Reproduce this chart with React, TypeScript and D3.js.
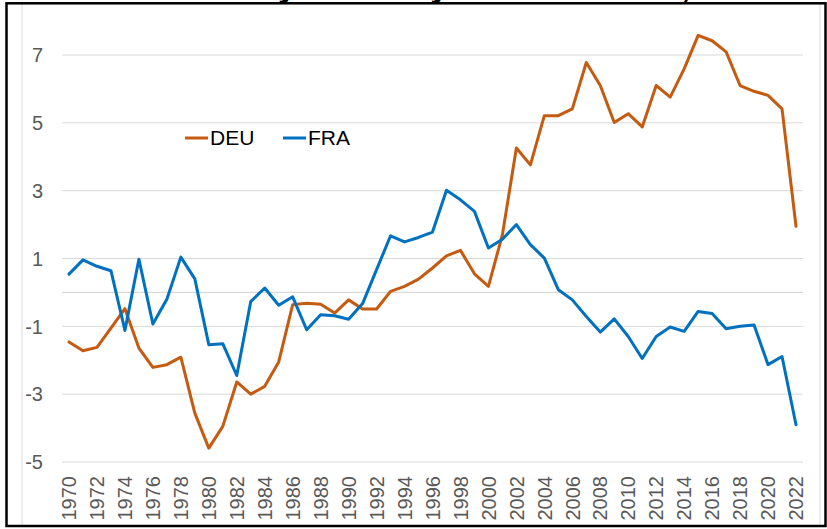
import React from "react";
import * as d3 from "d3";

const years: number[] = d3.range(1970, 2023);
const tickYears: number[] = years.filter((y) => (y - 1970) % 2 === 0);
const yTicks: number[] = [-5, -3, -1, 1, 3, 5, 7];

const deu: number[] = [
  -1.46, -1.72, -1.62, -1.05, -0.48, -1.64, -2.21, -2.13, -1.91, -3.56,
  -4.59, -3.95, -2.64, -3.0, -2.77, -2.05, -0.36, -0.32, -0.35, -0.61,
  -0.22, -0.49, -0.49, 0.03, 0.18, 0.39, 0.72, 1.08, 1.24, 0.55,
  0.18, 1.7, 4.26, 3.76, 5.21, 5.21, 5.41, 6.78, 6.1, 5.01,
  5.27, 4.88, 6.1, 5.76, 6.59, 7.58, 7.42, 7.09, 6.1, 5.93,
  5.81, 5.41, 1.95,
];
const fra: number[] = [
  0.54, 0.96, 0.77, 0.64, -1.12, 0.98, -0.93, -0.2, 1.04, 0.4,
  -1.54, -1.51, -2.45, -0.27, 0.13, -0.38, -0.13, -1.1, -0.66, -0.69,
  -0.79, -0.33, 0.67, 1.67, 1.49, 1.62, 1.78, 3.01, 2.73, 2.39,
  1.31, 1.57, 2.0, 1.41, 1.01, 0.08, -0.22, -0.71, -1.17, -0.78,
  -1.3, -1.95, -1.3, -1.02, -1.15, -0.56, -0.62, -1.07, -1.0, -0.96,
  -2.13, -1.89, -3.9,
];
const seriesNames = ["DEU", "FRA"];
const seriesColors = ["#C55A11", "#0070C0"];
const title = "Current account balance by Germany versus France, % of GDP";

const W = 827;
const H = 529;
const FONT = "Arial, 'Liberation Sans', sans-serif";

export default function App() {
  const x = d3.scaleBand<number>().domain(years).range([62, 803]);
  const y = d3.scaleLinear().domain([-5, 7]).range([462, 55]);
  const cx = (yr: number) => (x(yr) as number) + x.bandwidth() / 2;
  const line = d3
    .line<number>()
    .x((_, i) => cx(years[i]))
    .y((v) => y(v));
  const data = [deu, fra];

  return (
    <svg
      width={W}
      height={H}
      style={{ position: "absolute", left: 0, top: 0, background: "#fff" }}
      fontFamily={FONT}
    >
      <rect x={0} y={0} width={W} height={H} fill="#fff" />
      {/* title (cut off above the frame, only descenders visible) */}
      <text x={356} y={-3} textAnchor="middle" fontSize={33} fontWeight="bold" fill="#000">
        {title}
      </text>
      {/* inner chart-area borders */}
      <line x1={22} x2={22} y1={4} y2={526} stroke="#d9d9d9" strokeWidth={1} />
      <line x1={820} x2={820} y1={4} y2={526} stroke="#d9d9d9" strokeWidth={1} />
      {/* gridlines */}
      {yTicks.map((t) => (
        <line key={t} x1={62} x2={803} y1={y(t)} y2={y(t)} stroke="#d9d9d9" strokeWidth={1} />
      ))}
      <line x1={62} x2={803} y1={y(0)} y2={y(0)} stroke="#d9d9d9" strokeWidth={1.3} />
      {/* y labels */}
      {yTicks.map((t) => (
        <text
          key={t}
          x={43}
          y={y(t)}
          dy="0.36em"
          textAnchor="end"
          fontSize={20}
          fill="#595959"
        >
          {t}
        </text>
      ))}
      {/* x labels */}
      {tickYears.map((yr) => (
        <text
          key={yr}
          transform={`translate(${cx(yr)},476) rotate(-90)`}
          textAnchor="end"
          dy="0.36em"
          fontSize={20}
          fill="#595959"
        >
          {yr}
        </text>
      ))}
      {/* series */}
      {data.map((d, i) => (
        <path
          key={seriesNames[i]}
          d={line(d) as string}
          fill="none"
          stroke={seriesColors[i]}
          strokeWidth={3}
          strokeLinejoin="round"
          strokeLinecap="round"
        />
      ))}
      {/* legend */}
      {seriesNames.map((n, i) => (
        <g key={n} transform={`translate(${185 + i * 98},0)`}>
          <line x1={0} x2={23} y1={138} y2={138} stroke={seriesColors[i]} strokeWidth={3} />
          <text x={25} y={145} fontSize={21} fill="#000">
            {n}
          </text>
        </g>
      ))}
      {/* outer black frame */}
      <rect
        x={6.5}
        y={3.3}
        width={819}
        height={522.7}
        fill="none"
        stroke="#000"
        strokeWidth={2.5}
      />
    </svg>
  );
}
